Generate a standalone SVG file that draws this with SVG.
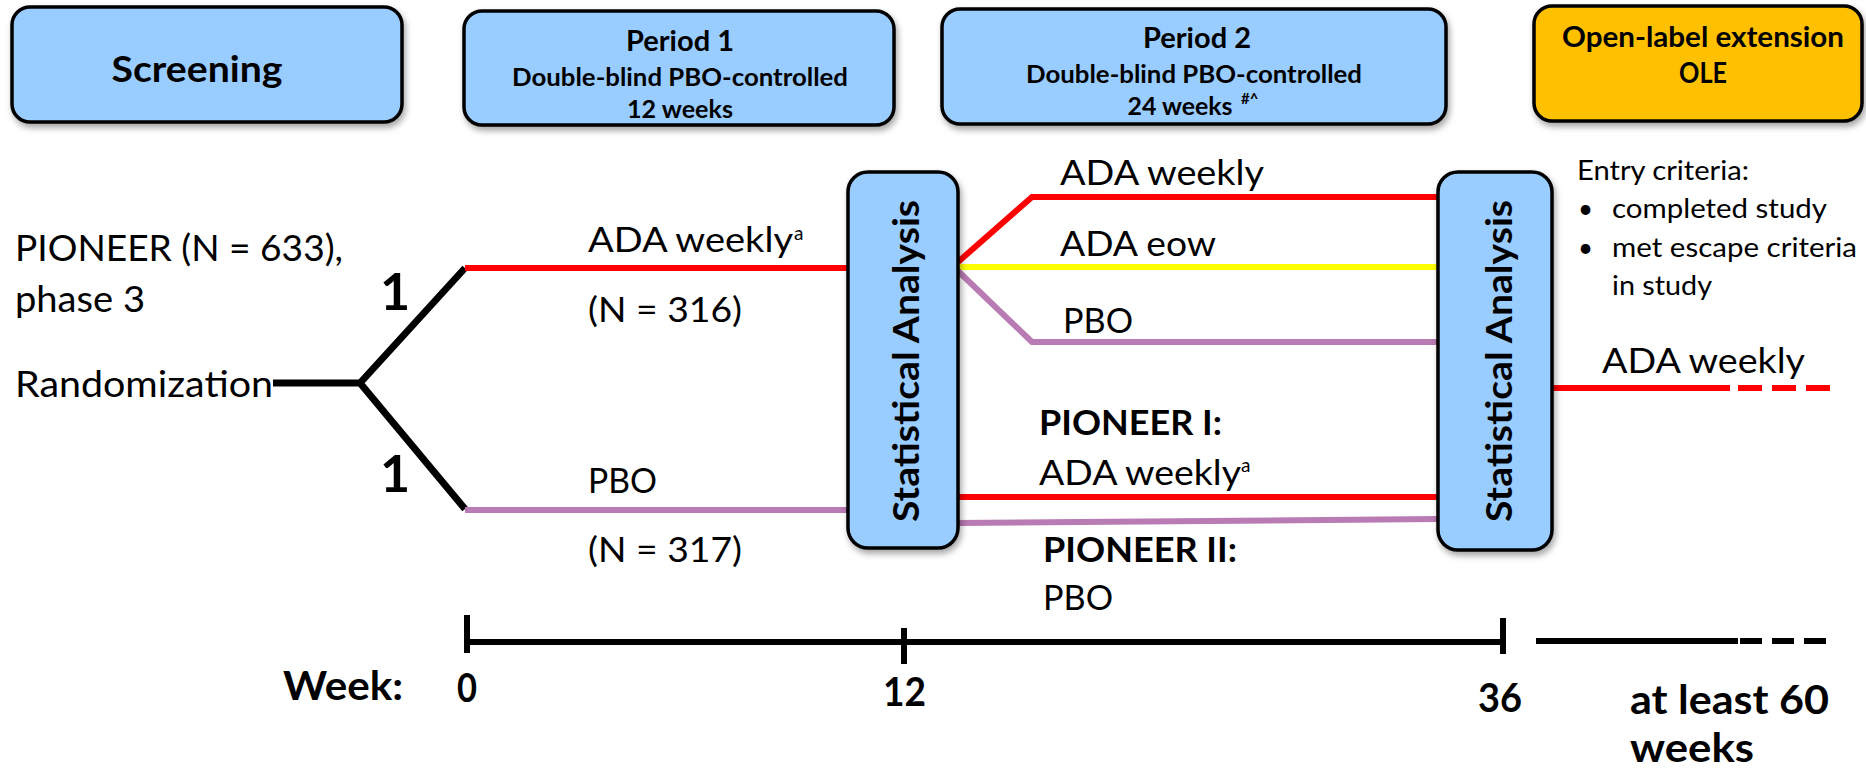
<svg xmlns="http://www.w3.org/2000/svg" width="1866" height="771" viewBox="0 0 1866 771">
<defs>
<filter id="sh" x="-10%" y="-10%" width="130%" height="130%">
<feDropShadow dx="2" dy="4" stdDeviation="3" flood-color="#000" flood-opacity="0.35"/>
</filter>
<style>
.box{fill:#99CCFF;stroke:#000;stroke-width:3.5;filter:url(#sh)}
.ole{fill:#FFC000;stroke:#000;stroke-width:3.5;filter:url(#sh)}
text{font-family:Lato,"Liberation Sans",sans-serif;fill:#000}
.b{font-weight:bold}
.r{font-size:34px}
.ec{font-size:26px}
.blk{stroke:#000;stroke-width:7;fill:none}
.red{stroke:#FF0000;stroke-width:6;fill:none}
.yel{stroke:#FFFF00;stroke-width:6;fill:none}
.pur{stroke:#B87BB3;stroke-width:6;fill:none}
.tl{stroke:#000;stroke-width:6;fill:none}
</style>
</defs>
<rect width="1866" height="771" fill="#fff"/>

<g id="connectors">
<path class="blk" d="M273 383 L360 383 L465 268 M360 383 L465 509"/>
<line class="red" x1="465" y1="268" x2="849" y2="268"/>
<line class="pur" x1="465" y1="510" x2="849" y2="510"/>
<path class="red" d="M958 262 L1032 197 L1438 197"/>
<line class="yel" x1="958" y1="267" x2="1438" y2="267"/>
<path class="pur" d="M958 271 L1032 342 L1438 342"/>
<line class="red" x1="958" y1="497" x2="1438" y2="497"/>
<line class="pur" x1="958" y1="523" x2="1438" y2="519"/>
<line class="red" x1="1552" y1="388" x2="1730" y2="388"/>
<line class="red" x1="1738" y1="388" x2="1834" y2="388" stroke-dasharray="24 10"/>
</g>

<g id="screening">
<rect class="box" x="12" y="7" width="390" height="115" rx="18"/>
<text class="b" x="197" y="82" font-size="36" text-anchor="middle" textLength="171" lengthAdjust="spacingAndGlyphs">Screening</text>
</g>
<g id="period1">
<rect class="box" x="464" y="11" width="430" height="114" rx="18"/>
<text class="b" x="680" y="51" font-size="28" text-anchor="middle" textLength="108" lengthAdjust="spacingAndGlyphs">Period 1</text>
<text class="b" x="680" y="86" font-size="25" text-anchor="middle" textLength="336" lengthAdjust="spacingAndGlyphs">Double-blind PBO-controlled</text>
<text class="b" x="680" y="118" font-size="25" text-anchor="middle" textLength="106" lengthAdjust="spacingAndGlyphs">12 weeks</text>
</g>
<g id="period2">
<rect class="box" x="942" y="9" width="504" height="115" rx="18"/>
<text class="b" x="1197" y="48" font-size="28" text-anchor="middle" textLength="108" lengthAdjust="spacingAndGlyphs">Period 2</text>
<text class="b" x="1194" y="83" font-size="25" text-anchor="middle" textLength="336" lengthAdjust="spacingAndGlyphs">Double-blind PBO-controlled</text>
<text class="b" x="1180" y="115" font-size="25" text-anchor="middle" textLength="105" lengthAdjust="spacingAndGlyphs">24 weeks</text>
<text class="b" x="1241" y="104" font-size="15">#^</text>
</g>
<g id="ole">
<rect class="ole" x="1534" y="6" width="328" height="115" rx="18"/>
<text class="b" x="1703" y="47" font-size="28" text-anchor="middle" textLength="282" lengthAdjust="spacingAndGlyphs">Open-label extension</text>
<text class="b" x="1703" y="83" font-size="28" text-anchor="middle" textLength="48" lengthAdjust="spacingAndGlyphs">OLE</text>
</g>

<g id="randomization">
<text x="15" y="261" font-size="36" textLength="328" lengthAdjust="spacingAndGlyphs">PIONEER (N = 633),</text>
<text x="15" y="312" font-size="36" textLength="130" lengthAdjust="spacingAndGlyphs">phase 3</text>
<text x="15" y="397" font-size="36" textLength="258" lengthAdjust="spacingAndGlyphs">Randomization</text>
<text class="b" x="380" y="310" font-size="52">1</text>
<text class="b" x="380" y="492" font-size="52">1</text>
</g>

<g id="arm-ada">
<text class="r" x="588" y="252" textLength="205" lengthAdjust="spacingAndGlyphs">ADA weekly</text>
<text x="794" y="240" font-size="19">a</text>
<text class="r" x="588" y="322" textLength="154" lengthAdjust="spacingAndGlyphs">(N = 316)</text>
</g>
<g id="arm-pbo">
<text class="r" x="588" y="493" textLength="69" lengthAdjust="spacingAndGlyphs">PBO</text>
<text class="r" x="588" y="562" textLength="154" lengthAdjust="spacingAndGlyphs">(N = 317)</text>
</g>

<g id="stat1">
<rect class="box" x="848" y="172" width="110" height="376" rx="20"/>
<text class="b" transform="translate(919,361) rotate(-90)" font-size="37" text-anchor="middle" textLength="322" lengthAdjust="spacingAndGlyphs">Statistical Analysis</text>
</g>
<g id="stat2">
<rect class="box" x="1438" y="172" width="114" height="378" rx="20"/>
<text class="b" transform="translate(1512,361) rotate(-90)" font-size="37" text-anchor="middle" textLength="322" lengthAdjust="spacingAndGlyphs">Statistical Analysis</text>
</g>

<g id="p2-arms">
<text class="r" x="1060" y="185" textLength="204" lengthAdjust="spacingAndGlyphs">ADA weekly</text>
<text class="r" x="1060" y="256" textLength="156" lengthAdjust="spacingAndGlyphs">ADA eow</text>
<text class="r" x="1063" y="333" textLength="70" lengthAdjust="spacingAndGlyphs">PBO</text>
</g>
<g id="p2-pioneer">
<text class="b" x="1039" y="435" font-size="35" textLength="183" lengthAdjust="spacingAndGlyphs">PIONEER I:</text>
<text class="r" x="1039" y="485" textLength="202" lengthAdjust="spacingAndGlyphs">ADA weekly</text>
<text x="1241" y="472" font-size="19">a</text>
<text class="b" x="1043" y="562" font-size="35" textLength="194" lengthAdjust="spacingAndGlyphs">PIONEER II:</text>
<text class="r" x="1043" y="610" textLength="70" lengthAdjust="spacingAndGlyphs">PBO</text>
</g>

<g id="entry">
<text class="ec" x="1577" y="180" textLength="172" lengthAdjust="spacingAndGlyphs">Entry criteria:</text>
<text class="ec" x="1578" y="218">•</text>
<text class="ec" x="1612" y="218" textLength="215" lengthAdjust="spacingAndGlyphs">completed study</text>
<text class="ec" x="1578" y="257">•</text>
<text class="ec" x="1612" y="257" textLength="245" lengthAdjust="spacingAndGlyphs">met escape criteria</text>
<text class="ec" x="1612" y="295" textLength="100" lengthAdjust="spacingAndGlyphs">in study</text>
<text x="1602" y="373" font-size="35" textLength="203" lengthAdjust="spacingAndGlyphs">ADA weekly</text>
</g>

<g id="timeline">
<path class="tl" d="M467 642 L1503 642 M467 615 L467 653 M904 628 L904 664 M1503 618 L1503 654"/>
<line class="tl" x1="1536" y1="641" x2="1738" y2="641"/>
<line class="tl" x1="1740" y1="641" x2="1830" y2="641" stroke-dasharray="22 10"/>
<text class="b" x="283" y="700" font-size="40" textLength="120" lengthAdjust="spacingAndGlyphs">Week:</text>
<text class="b" x="457" y="702" font-size="40" textLength="20" lengthAdjust="spacingAndGlyphs">0</text>
<text class="b" x="883" y="706" font-size="40" textLength="43" lengthAdjust="spacingAndGlyphs">12</text>
<text class="b" x="1478" y="712" font-size="40" textLength="44" lengthAdjust="spacingAndGlyphs">36</text>
<text class="b" x="1630" y="714" font-size="40" textLength="199" lengthAdjust="spacingAndGlyphs">at least 60</text>
<text class="b" x="1630" y="762" font-size="40" textLength="124" lengthAdjust="spacingAndGlyphs">weeks</text>
</g>
</svg>
